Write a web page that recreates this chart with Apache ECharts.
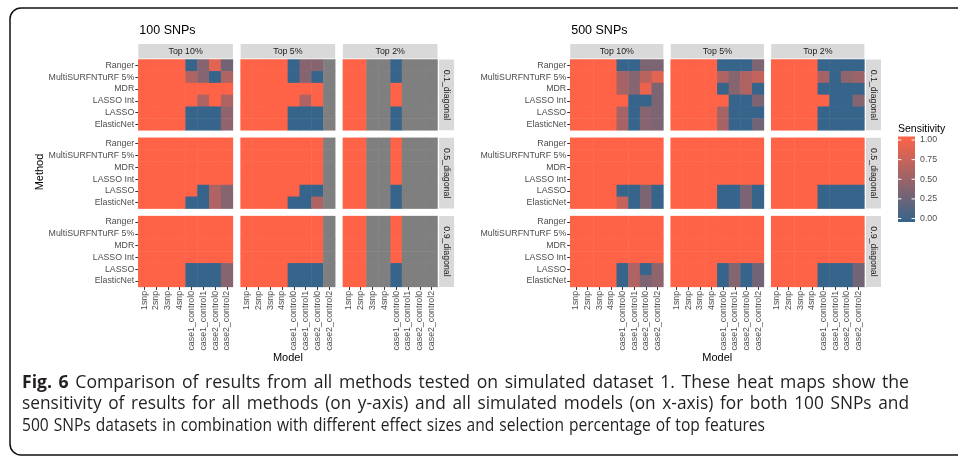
<!DOCTYPE html>
<html><head><meta charset="utf-8">
<script src="https://cdn.jsdelivr.net/npm/echarts@6/dist/echarts.min.js"></script>
<style>html,body{margin:0;padding:0;background:#fff}#c{width:958px;height:460px}</style>
</head><body><div id="c"></div>
<script>
// ---------- categories / labels ----------
const methods = ['Ranger','MultiSURFNTuRF 5%','MDR','LASSO Int','LASSO','ElasticNet'];
const models = ['1snp','2snp','3snp','4snp','case1_control0','case1_control1','case2_control0','case2_control2'];
const tops = ['Top 10%','Top 5%','Top 2%'];
const diagonals = ['0.1_diagonal','0.5_diagonal','0.9_diagonal'];
const panelTitles = ['100 SNPs','500 SNPs'];
const legendTicks = [0, 0.25, 0.5, 0.75, 1];
const captionBold = 'Fig. 6';
const captionLines = [
  'Comparison of results from all methods tested on simulated dataset 1. These heat maps show the',
  'sensitivity of results for all methods (on y-axis) and all simulated models (on x-axis) for both 100 SNPs and',
  '500 SNPs datasets in combination with different effect sizes and selection percentage of top features'
];
const N = null; // NA

// ---------- 100 SNPs (rows = methods, cols = models) ----------
const s100_d01_top10 = [
  [1,1,1,1,0,0.4,0.85,0.3],
  [1,1,1,1,0.6,0.4,0,0.6],
  [1,1,1,1,1,1,1,1],
  [1,1,1,1,1,0.6,1,0.6],
  [1,1,1,1,0,0,0,0.45],
  [1,1,1,1,0,0,0,0.45]];
const s100_d01_top5 = [
  [1,1,1,1,0,0.4,0.4,N],
  [1,1,1,1,0,0.4,0,N],
  [1,1,1,1,1,1,1,N],
  [1,1,1,1,1,0.6,1,N],
  [1,1,1,1,0,0,0,N],
  [1,1,1,1,0,0,0,N]];
const s100_d01_top2 = [
  [1,1,N,N,0,N,N,N],
  [1,1,N,N,0,N,N,N],
  [1,1,N,N,1,N,N,N],
  [1,1,N,N,1,N,N,N],
  [1,1,N,N,0,N,N,N],
  [1,1,N,N,0,N,N,N]];
const s100_d05_top10 = [
  [1,1,1,1,1,1,1,1],
  [1,1,1,1,1,1,1,1],
  [1,1,1,1,1,1,1,1],
  [1,1,1,1,1,1,1,1],
  [1,1,1,1,1,0,0.6,0.4],
  [1,1,1,1,0,0,0.6,0.4]];
const s100_d05_top5 = [
  [1,1,1,1,1,1,1,N],
  [1,1,1,1,1,1,1,N],
  [1,1,1,1,1,1,1,N],
  [1,1,1,1,1,1,1,N],
  [1,1,1,1,1,0,0,N],
  [1,1,1,1,0,0,0.6,N]];
const s100_d05_top2 = [
  [1,1,N,N,1,N,N,N],
  [1,1,N,N,1,N,N,N],
  [1,1,N,N,1,N,N,N],
  [1,1,N,N,1,N,N,N],
  [1,1,N,N,0,N,N,N],
  [1,1,N,N,0,N,N,N]];
const s100_d09_top10 = [
  [1,1,1,1,1,1,1,1],
  [1,1,1,1,1,1,1,1],
  [1,1,1,1,1,1,1,1],
  [1,1,1,1,1,1,1,1],
  [1,1,1,1,0,0,0,0.4],
  [1,1,1,1,0,0,0,0.4]];
const s100_d09_top5 = [
  [1,1,1,1,1,1,1,N],
  [1,1,1,1,1,1,1,N],
  [1,1,1,1,1,1,1,N],
  [1,1,1,1,1,1,1,N],
  [1,1,1,1,0,0,0,N],
  [1,1,1,1,0,0,0,N]];
const s100_d09_top2 = [
  [1,1,N,N,1,N,N,N],
  [1,1,N,N,1,N,N,N],
  [1,1,N,N,1,N,N,N],
  [1,1,N,N,1,N,N,N],
  [1,1,N,N,0,N,N,N],
  [1,1,N,N,0,N,N,N]];

// ---------- 500 SNPs ----------
const s500_d01_top10 = [
  [1,1,1,1,0,0,0.35,0.35],
  [1,1,1,1,0.55,0.4,0.65,0.85],
  [1,1,1,1,0.55,0.4,0.9,0.35],
  [1,1,1,1,1,0,0,0.35],
  [1,1,1,1,0.55,0,0.4,0.35],
  [1,1,1,1,0.55,0,0.4,0.35]];
const s500_d01_top5 = [
  [1,1,1,1,0,0,0,0.35],
  [1,1,1,1,0.6,0.4,0.6,0.7],
  [1,1,1,1,0,0.4,0.6,0],
  [1,1,1,1,1,0,0,0.35],
  [1,1,1,1,0.55,0,0,0],
  [1,1,1,1,0.55,0,0,0.3]];
const s500_d01_top2 = [
  [1,1,1,1,0,0,0,0],
  [1,1,1,1,0.55,0,0.45,0.5],
  [1,1,1,1,0,0,0,0],
  [1,1,1,1,1,0,0,0.4],
  [1,1,1,1,0,0,0,0],
  [1,1,1,1,0,0,0,0]];
const s500_d05_top10 = [
  [1,1,1,1,1,1,1,1],
  [1,1,1,1,1,1,1,1],
  [1,1,1,1,1,1,1,1],
  [1,1,1,1,1,1,1,1],
  [1,1,1,1,0,0,0.35,0],
  [1,1,1,1,0.7,0,0.35,0]];
const s500_d05_top5 = [
  [1,1,1,1,1,1,1,1],
  [1,1,1,1,1,1,1,1],
  [1,1,1,1,1,1,1,1],
  [1,1,1,1,1,1,1,1],
  [1,1,1,1,0,0,0.35,0],
  [1,1,1,1,0,0,0.35,0]];
const s500_d05_top2 = [
  [1,1,1,1,1,1,1,1],
  [1,1,1,1,1,1,1,1],
  [1,1,1,1,1,1,1,1],
  [1,1,1,1,1,1,1,1],
  [1,1,1,1,0,0,0,0],
  [1,1,1,1,0,0,0,0]];
const s500_d09_top10 = [
  [1,1,1,1,1,1,1,1],
  [1,1,1,1,1,1,1,1],
  [1,1,1,1,1,1,1,1],
  [1,1,1,1,1,1,1,1],
  [1,1,1,1,0,0.6,0,0.45],
  [1,1,1,1,0,0.6,0.35,0.45]];
const s500_d09_top5 = [
  [1,1,1,1,1,1,1,1],
  [1,1,1,1,1,1,1,1],
  [1,1,1,1,1,1,1,1],
  [1,1,1,1,1,1,1,1],
  [1,1,1,1,0,0.4,0,0.3],
  [1,1,1,1,0,0.4,0,0.3]];
const s500_d09_top2 = [
  [1,1,1,1,1,1,1,1],
  [1,1,1,1,1,1,1,1],
  [1,1,1,1,1,1,1,1],
  [1,1,1,1,1,1,1,1],
  [1,1,1,1,0,0,0,0.3],
  [1,1,1,1,0,0,0,0.3]];

const panelData = [
  [[s100_d01_top10, s100_d01_top5, s100_d01_top2],
   [s100_d05_top10, s100_d05_top5, s100_d05_top2],
   [s100_d09_top10, s100_d09_top5, s100_d09_top2]],
  [[s500_d01_top10, s500_d01_top5, s500_d01_top2],
   [s500_d05_top10, s500_d05_top5, s500_d05_top2],
   [s500_d09_top10, s500_d09_top5, s500_d09_top2]]
];

// ---------- layout & style ----------
const LOW = '#36648B', HIGH = '#FF6347', NA = '#7F7F7F', STRIP = '#D9D9D9';
const AX_FONT = 'Liberation Sans';
const layout = [
  {left: 138.3, step: 102.3, w: 94.6},
  {left: 570.2, step: 100.5, w: 93.2}
];
const rowTop0 = 59.5, rowStep = 78.3, rowH = 70.8;
const stripTop = 44, stripH = 14.6, stripGap = 1.6, stripW = 15;

const grids = [], xAxes = [], yAxes = [], series = [], valueSeriesIdx = [];
const graphics = [];
let gi = 0;
for (let p = 0; p < 2; p++) {
  const L = layout[p];
  for (let r = 0; r < 3; r++) {
    for (let c = 0; c < 3; c++) {
      const gx = L.left + c * L.step, gy = rowTop0 + r * rowStep;
      grids.push({left: gx, top: gy, width: L.w, height: rowH, containLabel: false});
      xAxes.push({
        type: 'category', gridIndex: gi, data: models,
        axisLine: {show: false}, splitLine: {show: false},
        axisTick: {show: r === 2, alignWithLabel: true, length: 3, lineStyle: {color: '#333', width: 1}},
        axisLabel: {show: r === 2, rotate: 90, interval: 0, fontSize: 8.8, color: '#4D4D4D', margin: 4, fontFamily: AX_FONT}
      });
      yAxes.push({
        type: 'category', gridIndex: gi, data: methods, inverse: true,
        axisLine: {show: false}, splitLine: {show: false},
        axisTick: {show: c === 0, alignWithLabel: true, length: 3, lineStyle: {color: '#333', width: 1}},
        axisLabel: {show: c === 0, interval: 0, fontSize: 8.8, color: '#4D4D4D', margin: 4, fontFamily: AX_FONT}
      });
      const mat = panelData[p][r][c];
      const vals = [], nas = [];
      mat.forEach((row, yi) => row.forEach((v, xi) => {
        if (v === null) nas.push([xi, yi, 0]); else vals.push([xi, yi, v]);
      }));
      valueSeriesIdx.push(series.length);
      series.push({type: 'heatmap', xAxisIndex: gi, yAxisIndex: gi, data: vals,
        itemStyle: {borderWidth: 0}, emphasis: {disabled: true}, silent: true});
      series.push({type: 'heatmap', xAxisIndex: gi, yAxisIndex: gi, data: nas,
        itemStyle: {color: NA, borderWidth: 0}, emphasis: {disabled: true}, silent: true});
      if (r === 0) {
        graphics.push({type: 'rect', shape: {x: gx, y: stripTop, width: L.w, height: stripH}, style: {fill: STRIP}, silent: true});
        graphics.push({type: 'text', x: gx + L.w / 2, y: stripTop + stripH / 2 + 0.5,
          style: {text: tops[c], fill: '#1A1A1A', font: '8.8px "Liberation Sans"', align: 'center', verticalAlign: 'middle'}, silent: true});
      }
      if (c === 2) {
        const sx = gx + L.w + stripGap;
        graphics.push({type: 'rect', shape: {x: sx, y: gy, width: stripW, height: rowH}, style: {fill: STRIP}, silent: true});
        graphics.push({type: 'text', x: sx + stripW / 2, y: gy + rowH / 2, rotation: -Math.PI / 2,
          style: {text: diagonals[r], fill: '#1A1A1A', font: '8.8px "Liberation Sans"', align: 'center', verticalAlign: 'middle'}, silent: true});
      }
      gi++;
    }
  }
  graphics.push({type: 'text', x: L.left + 1, y: 31,
    style: {text: panelTitles[p], fill: '#000', font: '12.5px "Liberation Sans"', align: 'left', verticalAlign: 'middle'}, silent: true});
  const midX = L.left + (2 * L.step + L.w) / 2;
  graphics.push({type: 'text', x: midX, y: 358,
    style: {text: 'Model', fill: '#000', font: '11px "Liberation Sans"', align: 'center', verticalAlign: 'middle'}, silent: true});
}
graphics.push({type: 'text', x: 40, y: 172, rotation: Math.PI / 2,
  style: {text: 'Method', fill: '#000', font: '11px "Liberation Sans"', align: 'center', verticalAlign: 'middle'}, silent: true});

// legend (colour bar)
const lgX = 898, lgW = 17, lgTop = 136.5, lgH = 85.5, tick1Y = 140, tick0Y = 218.5;
graphics.push({type: 'text', x: lgX, y: 129,
  style: {text: 'Sensitivity', fill: '#000', font: '10.5px "Liberation Sans"', align: 'left', verticalAlign: 'middle'}, silent: true});
graphics.push({type: 'rect', shape: {x: lgX, y: lgTop, width: lgW, height: lgH},
  style: {fill: {type: 'linear', x: 0, y: 0, x2: 0, y2: 1, colorStops: [{offset: 0, color: HIGH}, {offset: 1, color: LOW}]}}, silent: true});
legendTicks.forEach(v => {
  const y = tick0Y + (tick1Y - tick0Y) * v;
  graphics.push({type: 'line', shape: {x1: lgX, y1: y, x2: lgX + 3.4, y2: y}, style: {stroke: '#fff', lineWidth: 1}, silent: true});
  graphics.push({type: 'line', shape: {x1: lgX + lgW - 3.4, y1: y, x2: lgX + lgW, y2: y}, style: {stroke: '#fff', lineWidth: 1}, silent: true});
  graphics.push({type: 'text', x: lgX + lgW + 5, y: y,
    style: {text: v.toFixed(2), fill: '#4D4D4D', font: '8.8px "Liberation Sans"', align: 'left', verticalAlign: 'middle'}, silent: true});
});

// caption: condensed lines fitted to the reference line extents
const cctx = document.createElement('canvas').getContext('2d');
function tw(t, f) { cctx.font = f; return cctx.measureText(t).width; }
const CF = '18.5px "Open Sans"', CFB = 'bold 18.5px "Open Sans"';
const capLeft = 22;
const capRight = [909, 909, 765];
const capGap = [6.6, 6.6, 5.0];
const capY = [382.5, 404.2, 425.9];
captionLines.forEach((line, i) => {
  const tokens = line.split(' ').map(t => ({t, f: CF}));
  if (i === 0) captionBold.split(' ').reverse().forEach(t => tokens.unshift({t, f: CFB}));
  const raw = tokens.map(k => tw(k.t, k.f));
  const sum = raw.reduce((a, b) => a + b, 0);
  const s = (capRight[i] - capLeft - capGap[i] * (tokens.length - 1)) / sum;
  let x = capLeft;
  tokens.forEach((k, j) => {
    graphics.push({type: 'text', x: x, y: capY[i], scaleX: s,
      style: {text: k.t, fill: '#231F20', font: k.f, align: 'left', verticalAlign: 'middle'}, silent: true});
    x += raw[j] * s + capGap[i];
  });
});

// frame
graphics.push({type: 'rect', shape: {x: 10, y: 8, width: 965, height: 447, r: 11},
  style: {fill: null, stroke: '#111', lineWidth: 1.5}, silent: true});

const chart = echarts.init(document.getElementById('c'), null, {renderer: 'canvas'});
chart.setOption({
  animation: false,
  backgroundColor: '#fff',
  grid: grids, xAxis: xAxes, yAxis: yAxes, series: series,
  visualMap: {type: 'continuous', show: false, min: 0, max: 1, seriesIndex: valueSeriesIdx,
    inRange: {color: [LOW, HIGH]}},
  graphic: {elements: graphics}
});
</script></body></html>
